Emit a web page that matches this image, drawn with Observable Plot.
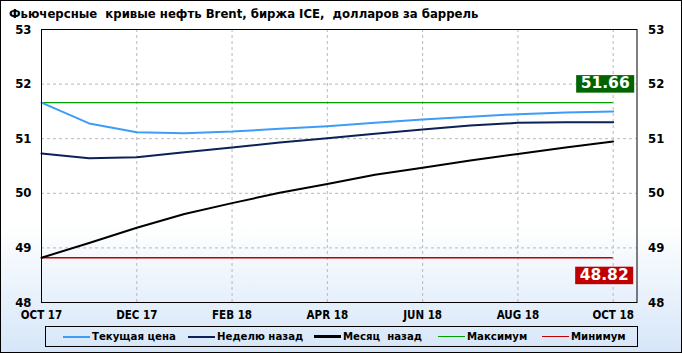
<!DOCTYPE html>
<html><head><meta charset="utf-8">
<script src="https://cdn.jsdelivr.net/npm/d3@7"></script>
<script src="https://cdn.jsdelivr.net/npm/@observablehq/plot@0.6"></script>
<style>
html,body{margin:0;padding:0;background:#fff;}
#wrap{position:relative;width:680px;height:351px;border:1px solid #000;
 background:linear-gradient(to bottom,#ffffff 0%,#ffffff 64%,#d6e6f8 100%);
 font-family:"DejaVu Sans Condensed","DejaVu Sans",sans-serif;font-weight:bold;overflow:hidden;}
#title{height:20px;line-height:20px;padding:3px 0 0 8px;box-sizing:border-box;font-size:13px;color:#000;white-space:pre;}
#chart svg{display:block;overflow:visible;}
#legend{position:absolute;left:44px;top:325px;width:593px;height:21px;border:1px solid #000;box-sizing:border-box;
 font-size:11.3px;background:transparent;}
.item{display:flex;align-items:center;position:absolute;top:0;height:19px;}
.sw{width:27px;margin-right:2px;}
</style></head>
<body>
<div id="wrap">
<div id="title">Фьючерсные  кривые нефть Brent, биржа ICE,  долларов за баррель</div>
<div id="chart"></div>
<div id="legend"></div>
</div>
<script>
const months = ["OCT 17","NOV 17","DEC 17","JAN 18","FEB 18","MAR 18","APR 18","MAY 18","JUN 18","JUL 18","AUG 18","SEP 18","OCT 18"];
const currentPrice = [51.66,51.28,51.12,51.10,51.13,51.18,51.23,51.29,51.35,51.40,51.45,51.48,51.50];
const weekAgo = [50.73,50.64,50.66,50.75,50.84,50.93,51.01,51.09,51.17,51.24,51.29,51.30,51.30];
const monthAgo = [48.82,49.09,49.37,49.62,49.82,50.01,50.17,50.34,50.47,50.60,50.72,50.84,50.95];
const maxValue = 51.66;
const minValue = 48.82;
const yTicks = [48,49,50,51,52,53];
const xTickLabels = ["OCT 17","DEC 17","FEB 18","APR 18","JUN 18","AUG 18","OCT 18"];
const seriesNames = ["Текущая цена","Неделю назад","Месяц  назад","Максимум","Минимум"];

const colors = {cur:"#3d9df5", week:"#0c2157", month:"#000000", max:"#00a000", min:"#c00000", maxBox:"#006400", minBox:"#c00000"};

const rows = months.map((m,i)=>({i, m, cur:currentPrice[i], week:weekAgo[i], month:monthAgo[i]}));
const xTicks = xTickLabels.map(l=>months.indexOf(l));
const last = months.length-1;
const fmt = d3.format(".2f");

const plot = Plot.plot({
  width:680, height:300,
  marginLeft:40, marginRight:44.5, marginTop:8, marginBottom:19,
  x:{type:"linear", domain:[0,last+0.5]},
  y:{domain:[48,53]},
  style:{background:"transparent", fontFamily:"DejaVu Sans Condensed, DejaVu Sans, sans-serif", fontWeight:"bold", color:"#000"},
  marks:[
    Plot.gridX(xTicks,{stroke:"#b8b8b8", strokeOpacity:1, strokeDasharray:"3,3"}),
    Plot.gridY(yTicks,{stroke:"#b8b8b8", strokeOpacity:1, strokeDasharray:"3,3"}),
    Plot.axisY(yTicks,{anchor:"left", tickSize:0, tickPadding:10, fontSize:13, tickFormat:d=>d}),
    Plot.axisY(yTicks,{anchor:"right", tickSize:0, tickPadding:11, fontSize:13, tickFormat:d=>d}),
    Plot.axisX(xTicks,{anchor:"bottom", tickSize:0, tickPadding:8, fontSize:11.5, tickFormat:i=>months[i], label:null}),
    Plot.ruleY([maxValue],{x1:()=>0, x2:()=>last, stroke:colors.max, strokeWidth:1.3}),
    Plot.ruleY([minValue],{x1:()=>0, x2:()=>last, stroke:colors.min, strokeWidth:1.3}),
    Plot.line(rows,{x:"i", y:"month", stroke:colors.month, strokeWidth:2}),
    Plot.line(rows,{x:"i", y:"week", stroke:colors.week, strokeWidth:2}),
    Plot.line(rows,{x:"i", y:"cur", stroke:colors.cur, strokeWidth:2}),
    Plot.frame({stroke:"#000", strokeWidth:1}),
    Plot.text([maxValue],{x:()=>last, y:d=>d, text:d=>fmt(d), dx:-8, dy:-19.5, fill:"#fff", fontSize:15.5, fontWeight:"bold",
      fontFamily:"DejaVu Sans, sans-serif", className:"vlabel-max"}),
    Plot.text([minValue],{x:()=>last, y:d=>d, text:d=>fmt(d), dx:-9, dy:17, fill:"#fff", fontSize:15.5, fontWeight:"bold",
      fontFamily:"DejaVu Sans, sans-serif", className:"vlabel-min"})
  ]
});
document.getElementById("chart").appendChild(plot);

function boxLabels(cls, color){
  d3.select(plot).selectAll("g."+cls+" text").each(function(){
    const b = this.getBBox();
    const t = this.getAttribute("transform");
    const parent = this.parentNode;
    const r = d3.select(parent).insert("rect", () => parent.firstChild)
      .attr("x", b.x-4.5).attr("y", b.y+1).attr("width", b.width+9).attr("height", b.height-0.5)
      .attr("fill", color);
    if (t) r.attr("transform", t);
  });
}
boxLabels("vlabel-max", colors.maxBox);
boxLabels("vlabel-min", colors.minBox);

const legendItems = [
  {name:seriesNames[0], color:colors.cur, left:17, w:2},
  {name:seriesNames[1], color:colors.week, left:142, w:2},
  {name:seriesNames[2], color:colors.month, left:268, w:2.5},
  {name:seriesNames[3], color:colors.max, left:392, w:1.2},
  {name:seriesNames[4], color:colors.min, left:496, w:1.2}
];
const lg = document.getElementById("legend");
legendItems.forEach(it=>{
  const d = document.createElement("div");
  d.className="item"; d.style.left = it.left+"px";
  d.innerHTML = `<span class="sw" style="background:${it.color};height:${it.w}px"></span><span style="white-space:pre">${it.name}</span>`;
  lg.appendChild(d);
});
</script>
</body></html>
